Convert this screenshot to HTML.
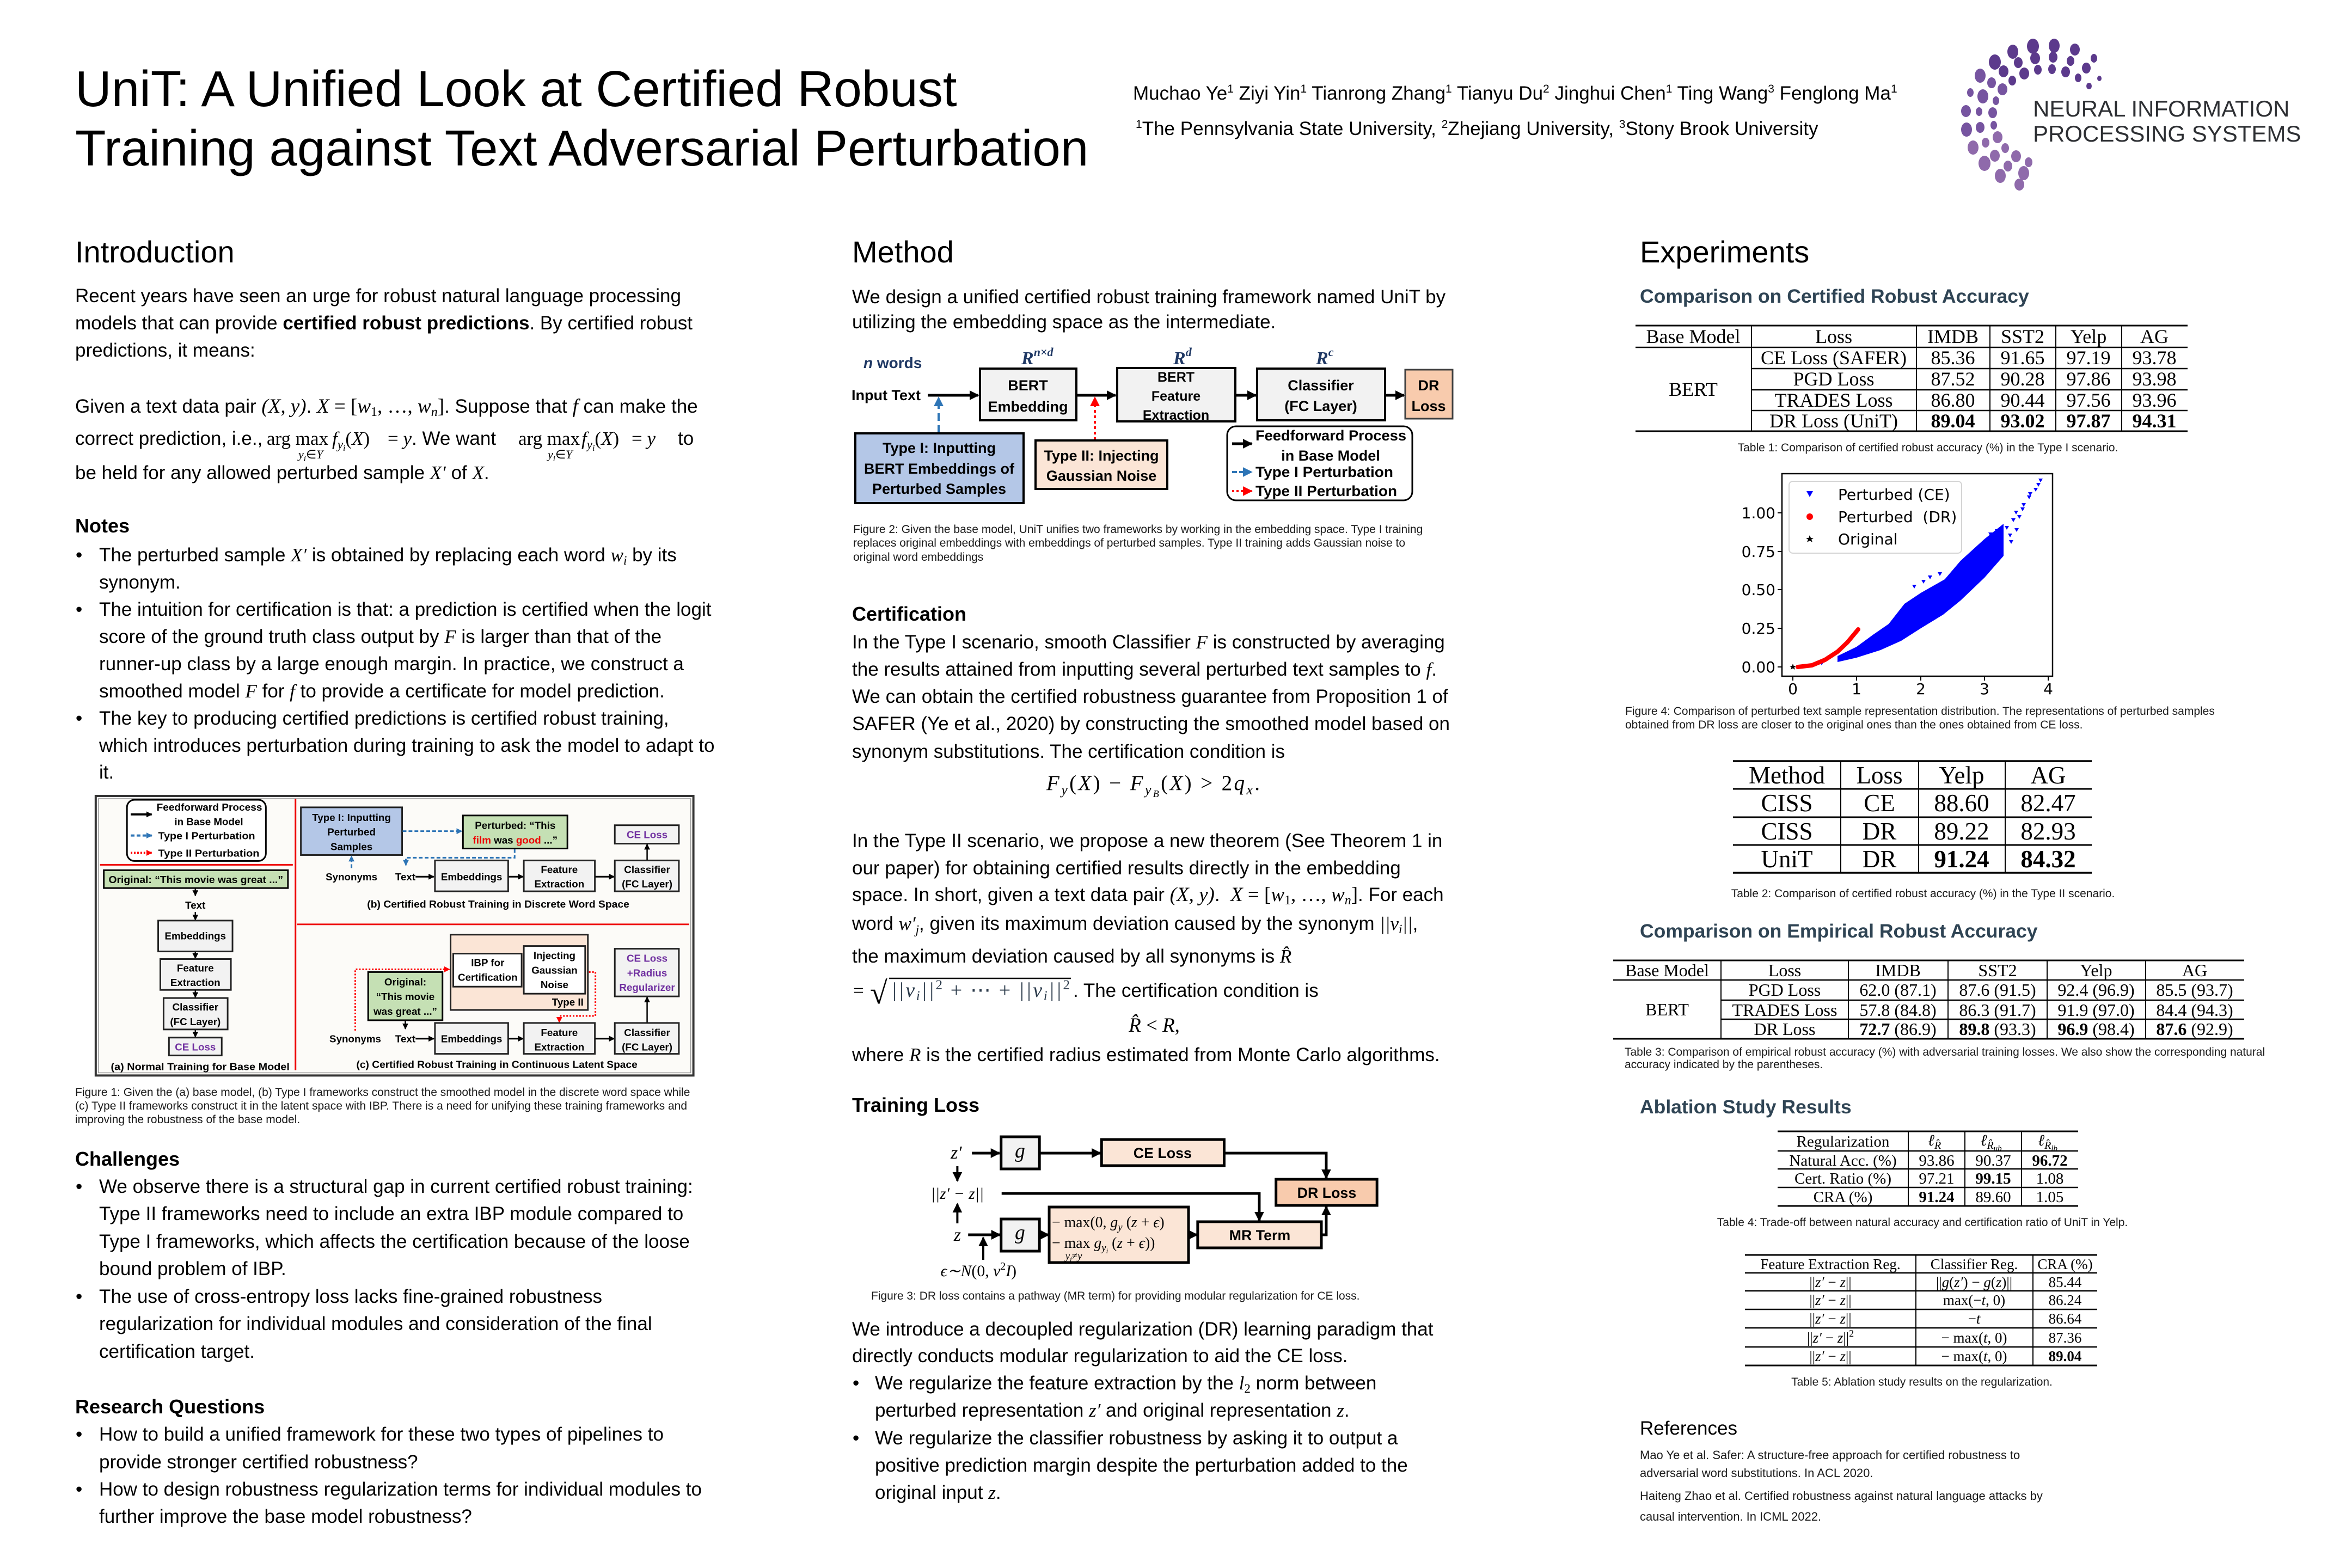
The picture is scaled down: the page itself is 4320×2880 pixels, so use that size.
<!DOCTYPE html>
<html><head><meta charset="utf-8"><title>UniT poster</title>
<style>
html,body{margin:0;padding:0;background:#fff;}
svg{display:block;}
text{font-family:"Liberation Sans",Arial,sans-serif;fill:#000;}
.t{font-size:92.5px}
.h{font-size:56px}
.b{font-size:35px}
.bb{font-size:36px;font-weight:bold}
.bl{font-size:35.5px;font-weight:bold;fill:#2f4454}
.m{font-family:"Liberation Serif",serif;font-style:italic}
.s{font-family:"Liberation Serif",serif;font-style:normal}
.c{font-size:21px;fill:#1a1a1a}
.rf{font-size:22px;fill:#1a1a1a}
.tt{font-family:"Liberation Serif",serif}
.f{font-weight:bold}
.dj{font-family:"DejaVu Sans",sans-serif}
</style></head><body>
<svg width="4320" height="2880" viewBox="0 0 4320 2880" xmlns="http://www.w3.org/2000/svg">
<defs>
<marker id="k" viewBox="0 0 10 10" refX="9" refY="5" markerWidth="18" markerHeight="18" markerUnits="userSpaceOnUse" orient="auto"><path d="M0,0L10,5L0,10z" fill="#000"/></marker>
<marker id="bm" viewBox="0 0 10 10" refX="9" refY="5" markerWidth="18" markerHeight="18" markerUnits="userSpaceOnUse" orient="auto"><path d="M0,0L10,5L0,10z" fill="#2e75b6"/></marker>
<marker id="rm" viewBox="0 0 10 10" refX="9" refY="5" markerWidth="18" markerHeight="18" markerUnits="userSpaceOnUse" orient="auto"><path d="M0,0L10,5L0,10z" fill="#f00"/></marker>
<marker id="k2" viewBox="0 0 10 10" refX="9" refY="5" markerWidth="11" markerHeight="11" markerUnits="userSpaceOnUse" orient="auto"><path d="M0,0L10,5L0,10z" fill="#000"/></marker>
<marker id="b2" viewBox="0 0 10 10" refX="9" refY="5" markerWidth="11" markerHeight="11" markerUnits="userSpaceOnUse" orient="auto"><path d="M0,0L10,5L0,10z" fill="#2e75b6"/></marker>
<marker id="r2" viewBox="0 0 10 10" refX="9" refY="5" markerWidth="11" markerHeight="11" markerUnits="userSpaceOnUse" orient="auto"><path d="M0,0L10,5L0,10z" fill="#f00"/></marker>
</defs>
<rect width="4320" height="2880" fill="#fff"/>

<!-- HEADER -->
<text class="t" x="138" y="195">UniT: A Unified Look at Certified Robust</text>
<text class="t" x="138" y="304">Training against Text Adversarial Perturbation</text>
<text x="2081" y="183" font-size="35">Muchao Ye<tspan font-size="21" dy="-13">1</tspan><tspan dy="13"> Ziyi Yin</tspan><tspan font-size="21" dy="-13">1</tspan><tspan dy="13"> Tianrong Zhang</tspan><tspan font-size="21" dy="-13">1</tspan><tspan dy="13"> Tianyu Du</tspan><tspan font-size="21" dy="-13">2</tspan><tspan dy="13"> Jinghui Chen</tspan><tspan font-size="21" dy="-13">1</tspan><tspan dy="13"> Ting Wang</tspan><tspan font-size="21" dy="-13">3</tspan><tspan dy="13"> Fenglong Ma</tspan><tspan font-size="21" dy="-13">1</tspan></text>
<text x="2086" y="248" font-size="35"><tspan font-size="21" dy="-13">1</tspan><tspan dy="13">The Pennsylvania State University, </tspan><tspan font-size="21" dy="-13">2</tspan><tspan dy="13">Zhejiang University, </tspan><tspan font-size="21" dy="-13">3</tspan><tspan dy="13">Stony Brook University</tspan></text>

<!-- Logo -->
<g>
<g fill="#5c3a8c">
<ellipse cx="3837" cy="158" rx="5" ry="6"/><ellipse cx="3856" cy="144" rx="4" ry="5"/>
<ellipse cx="3846" cy="107" rx="6" ry="8"/><ellipse cx="3832" cy="125" rx="8" ry="10"/><ellipse cx="3817" cy="143" rx="6" ry="8"/>
<ellipse cx="3811" cy="91" rx="9" ry="11"/><ellipse cx="3803" cy="112" rx="7" ry="9"/><ellipse cx="3794" cy="132" rx="8" ry="10"/>
<ellipse cx="3773" cy="84" rx="10" ry="13"/><ellipse cx="3771" cy="105" rx="8" ry="10"/><ellipse cx="3769" cy="127" rx="7" ry="9"/>
<ellipse cx="3734" cy="85" rx="11" ry="14"/><ellipse cx="3738" cy="107" rx="9" ry="11"/><ellipse cx="3743" cy="128" rx="7" ry="9"/>
<ellipse cx="3697" cy="95" rx="10" ry="13"/><ellipse cx="3707" cy="115" rx="8" ry="10"/><ellipse cx="3718" cy="135" rx="9" ry="11"/>
<ellipse cx="3664" cy="114" rx="11" ry="14"/><ellipse cx="3680" cy="131" rx="9" ry="11"/><ellipse cx="3696" cy="148" rx="7" ry="9"/>
</g>
<g fill="#7654a0">
<ellipse cx="3637" cy="139" rx="10" ry="13"/><ellipse cx="3658" cy="152" rx="8" ry="10"/><ellipse cx="3678" cy="164" rx="9" ry="11"/>
<ellipse cx="3619" cy="170" rx="6" ry="8"/><ellipse cx="3642" cy="177" rx="10" ry="13"/><ellipse cx="3666" cy="185" rx="6" ry="8"/>
<ellipse cx="3611" cy="204" rx="9" ry="11"/><ellipse cx="3635" cy="205" rx="6" ry="8"/><ellipse cx="3660" cy="207" rx="8" ry="10"/>
<ellipse cx="3612" cy="238" rx="10" ry="13"/><ellipse cx="3637" cy="234" rx="8" ry="10"/><ellipse cx="3662" cy="230" rx="6" ry="8"/>
</g>
<g fill="#8f6aab">
<ellipse cx="3624" cy="271" rx="10" ry="13"/><ellipse cx="3647" cy="262" rx="7" ry="9"/><ellipse cx="3669" cy="252" rx="9" ry="11"/>
<ellipse cx="3645" cy="300" rx="11" ry="14"/><ellipse cx="3664" cy="286" rx="9" ry="11"/><ellipse cx="3683" cy="272" rx="7" ry="9"/>
<ellipse cx="3674" cy="323" rx="10" ry="13"/><ellipse cx="3688" cy="305" rx="8" ry="10"/><ellipse cx="3703" cy="287" rx="9" ry="11"/>
<ellipse cx="3709" cy="339" rx="9" ry="11"/><ellipse cx="3717" cy="318" rx="10" ry="13"/><ellipse cx="3726" cy="298" rx="7" ry="9"/>
</g>
<text x="3734" y="214" font-size="42" style="fill:#2d2f33">NEURAL INFORMATION</text>
<text x="3734" y="260" font-size="42" style="fill:#2d2f33">PROCESSING SYSTEMS</text>
</g>

<!-- COLUMN 1 -->
<text class="h" x="138" y="482">Introduction</text>
<text class="b" x="138" y="555">Recent years have seen an urge for robust natural language processing</text>
<text class="b" x="138" y="605">models that can provide <tspan font-weight="bold">certified robust predictions</tspan>. By certified robust</text>
<text class="b" x="138" y="655">predictions, it means:</text>

<text class="b" x="138" y="758">Given a text data pair <tspan class="m" font-size="37">(X, y)</tspan>. <tspan class="m" font-size="37">X</tspan><tspan class="s" font-size="37"> = [</tspan><tspan class="m" font-size="37">w</tspan><tspan class="s" font-size="24" dy="6">1</tspan><tspan class="s" font-size="37" dy="-6">, …, </tspan><tspan class="m" font-size="37">w</tspan><tspan class="m" font-size="24" dy="6">n</tspan><tspan class="s" font-size="37" dy="-6">]</tspan>. Suppose that <tspan class="m" font-size="37">f</tspan> can make the</text>
<text class="b" y="817"><tspan x="138">correct prediction, i.e., </tspan><tspan x="490" class="s">arg max</tspan><tspan x="610" class="m">f</tspan><tspan class="m" font-size="23" dy="7">y</tspan><tspan class="m" font-size="16" dy="4">i</tspan><tspan class="s" dy="-11">(</tspan><tspan class="m">X</tspan><tspan class="s">)</tspan><tspan x="712" class="s">= </tspan><tspan class="m">y</tspan><tspan>. We want </tspan><tspan x="952" class="s">arg max</tspan><tspan x="1068" class="m">f</tspan><tspan class="m" font-size="23" dy="7">y</tspan><tspan class="m" font-size="16" dy="4">i</tspan><tspan class="s" dy="-11">(</tspan><tspan class="m">X</tspan><tspan class="s">)</tspan><tspan x="1160" class="s">= </tspan><tspan class="m">y</tspan><tspan x="1245">to</tspan></text>
<text class="m" font-size="22" x="548" y="842">y<tspan font-size="15" dy="5">i</tspan><tspan class="s" dy="-5">∈</tspan>Y</text>
<text class="m" font-size="22" x="1006" y="842">y<tspan font-size="15" dy="5">i</tspan><tspan class="s" dy="-5">∈</tspan>Y</text>
<text class="b" x="138" y="880">be held for any allowed perturbed sample <tspan class="m">X′</tspan> of <tspan class="m">X</tspan>.</text>

<text class="bb" x="138" y="978">Notes</text>
<text class="b" x="139" y="1031">•</text><text class="b" x="182" y="1031">The perturbed sample <tspan class="m">X′</tspan> is obtained by replacing each word <tspan class="m">w</tspan><tspan class="m" font-size="23" dy="6">i</tspan><tspan dy="-6"> by its</tspan></text>
<text class="b" x="182" y="1081">synonym.</text>
<text class="b" x="139" y="1131">•</text><text class="b" x="182" y="1131">The intuition for certification is that: a prediction is certified when the logit</text>
<text class="b" x="182" y="1181">score of the ground truth class output by <tspan class="m">F</tspan> is larger than that of the</text>
<text class="b" x="182" y="1231">runner-up class by a large enough margin. In practice, we construct a</text>
<text class="b" x="182" y="1281">smoothed model <tspan class="m">F</tspan> for <tspan class="m">f</tspan> to provide a certificate for model prediction.</text>
<text class="b" x="139" y="1331">•</text><text class="b" x="182" y="1331">The key to producing certified predictions is certified robust training,</text>
<text class="b" x="182" y="1381">which introduces perturbation during training to ask the model to adapt to</text>
<text class="b" x="182" y="1430">it.</text>

<!-- FIGURE 1 -->
<g transform="matrix(0.989,0,0,0.995,1.76,7.3)" font-size="19" font-weight="bold">
<rect x="176" y="1462" width="1110" height="516" fill="#fcfbf8" stroke="#333" stroke-width="4"/>
<rect x="181" y="1467" width="1100" height="506" fill="none" stroke="#999" stroke-width="1.5"/>
<line x1="547" y1="1467" x2="547" y2="1968" stroke="#e00" stroke-width="3"/>
<line x1="184" y1="1589" x2="542" y2="1589" stroke="#e00" stroke-width="3"/>
<line x1="550" y1="1699" x2="1278" y2="1699" stroke="#e00" stroke-width="3"/>
<rect x="234" y="1469" width="258" height="113" rx="14" fill="#fff" stroke="#000" stroke-width="3"/>
<line x1="241" y1="1496" x2="280" y2="1496" stroke="#000" stroke-width="4" marker-end="url(#k2)"/>
<line x1="241" y1="1535" x2="280" y2="1535" stroke="#2e75b6" stroke-width="4" stroke-dasharray="7 4" marker-end="url(#b2)"/>
<line x1="241" y1="1567" x2="280" y2="1567" stroke="#f00" stroke-width="4" stroke-dasharray="3 3" marker-end="url(#r2)"/>
<text x="289" y="1489" textLength="196" lengthAdjust="spacingAndGlyphs">Feedforward Process</text>
<text x="386" y="1516" text-anchor="middle">in Base Model</text>
<text x="292" y="1542" textLength="180" lengthAdjust="spacingAndGlyphs">Type I Perturbation</text>
<text x="292" y="1574" textLength="188" lengthAdjust="spacingAndGlyphs">Type II Perturbation</text>
<rect x="191" y="1599" width="342" height="33" fill="#c5e0b4" stroke="#000" stroke-width="3"/>
<text x="200" y="1623" textLength="324" lengthAdjust="spacingAndGlyphs">Original: “This movie was great ...”</text>
<line x1="361" y1="1633" x2="361" y2="1646" stroke="#000" stroke-width="2.5" marker-end="url(#k2)"/>
<text x="361" y="1670" text-anchor="middle">Text</text>
<line x1="361" y1="1676" x2="361" y2="1691" stroke="#000" stroke-width="2.5" marker-end="url(#k2)"/>
<rect x="292" y="1692" width="138" height="57" fill="#f2f2f2" stroke="#222" stroke-width="3"/>
<text x="361" y="1727" text-anchor="middle">Embeddings</text>
<line x1="361" y1="1750" x2="361" y2="1762" stroke="#000" stroke-width="2.5" marker-end="url(#k2)"/>
<rect x="296" y="1763" width="131" height="57" fill="#f2f2f2" stroke="#222" stroke-width="3"/>
<text x="361" y="1786" text-anchor="middle">Feature</text>
<text x="361" y="1813" text-anchor="middle">Extraction</text>
<line x1="361" y1="1821" x2="361" y2="1834" stroke="#000" stroke-width="2.5" marker-end="url(#k2)"/>
<rect x="302" y="1835" width="119" height="58" fill="#f2f2f2" stroke="#222" stroke-width="3"/>
<text x="361" y="1858" text-anchor="middle">Classifier</text>
<text x="361" y="1885" text-anchor="middle">(FC Layer)</text>
<line x1="361" y1="1894" x2="361" y2="1907" stroke="#000" stroke-width="2.5" marker-end="url(#k2)"/>
<rect x="312" y="1908" width="98" height="33" fill="#f2f2f2" stroke="#222" stroke-width="3"/>
<text x="361" y="1932" text-anchor="middle" style="fill:#7030a0">CE Loss</text>
<text x="204" y="1968" textLength="332" lengthAdjust="spacingAndGlyphs">(a) Normal Training for Base Model</text>
<rect x="557" y="1483" width="188" height="88" fill="#b4c7e7" stroke="#222" stroke-width="3"/>
<text x="651" y="1508" text-anchor="middle">Type I: Inputting</text>
<text x="651" y="1535" text-anchor="middle">Perturbed</text>
<text x="651" y="1562" text-anchor="middle">Samples</text>
<line x1="746" y1="1527" x2="856" y2="1527" stroke="#2e75b6" stroke-width="3" stroke-dasharray="7 4" marker-end="url(#b2)"/>
<rect x="858" y="1498" width="194" height="61" fill="#c5e0b4" stroke="#000" stroke-width="3"/>
<text x="955" y="1523" text-anchor="middle">Perturbed: “This</text>
<text x="955" y="1550" text-anchor="middle"><tspan style="fill:#e00">film</tspan> was <tspan style="fill:#e00">good</tspan> ...”</text>
<path d="M954,1560V1576H752V1590" fill="none" stroke="#2e75b6" stroke-width="3" stroke-dasharray="7 4" marker-end="url(#b2)"/>
<path d="M651,1595V1573" fill="none" stroke="#2e75b6" stroke-width="3" stroke-dasharray="7 4" marker-end="url(#b2)"/>
<text x="651" y="1618" text-anchor="middle">Synonyms</text>
<text x="751" y="1618" text-anchor="middle">Text</text>
<line x1="770" y1="1611" x2="804" y2="1611" stroke="#000" stroke-width="3" marker-end="url(#k2)"/>
<rect x="806" y="1581" width="136" height="57" fill="#f2f2f2" stroke="#222" stroke-width="3"/>
<text x="874" y="1618" text-anchor="middle">Embeddings</text>
<line x1="943" y1="1611" x2="970" y2="1611" stroke="#000" stroke-width="3" marker-end="url(#k2)"/>
<rect x="971" y="1581" width="132" height="57" fill="#f2f2f2" stroke="#222" stroke-width="3"/>
<text x="1037" y="1604" text-anchor="middle">Feature</text>
<text x="1037" y="1631" text-anchor="middle">Extraction</text>
<line x1="1104" y1="1611" x2="1139" y2="1611" stroke="#000" stroke-width="3" marker-end="url(#k2)"/>
<rect x="1140" y="1581" width="119" height="57" fill="#f2f2f2" stroke="#222" stroke-width="3"/>
<text x="1200" y="1604" text-anchor="middle">Classifier</text>
<text x="1200" y="1631" text-anchor="middle">(FC Layer)</text>
<rect x="1140" y="1516" width="119" height="34" fill="#f2f2f2" stroke="#222" stroke-width="3"/>
<text x="1200" y="1540" text-anchor="middle" style="fill:#7030a0">CE Loss</text>
<line x1="1200" y1="1580" x2="1200" y2="1551" stroke="#000" stroke-width="2.5" marker-end="url(#k2)"/>
<text x="680" y="1668" textLength="487" lengthAdjust="spacingAndGlyphs">(b) Certified Robust Training in Discrete Word Space</text>
<rect x="835" y="1718" width="255" height="139" fill="#fbe5d6" stroke="#222" stroke-width="3"/>
<rect x="840" y="1753" width="127" height="61" fill="#fff" stroke="#222" stroke-width="3"/>
<text x="904" y="1776" text-anchor="middle">IBP for</text>
<text x="904" y="1803" text-anchor="middle">Certification</text>
<rect x="971" y="1739" width="114" height="88" fill="#fff" stroke="#222" stroke-width="3"/>
<text x="1028" y="1763" text-anchor="middle">Injecting</text>
<text x="1028" y="1790" text-anchor="middle">Gaussian</text>
<text x="1028" y="1817" text-anchor="middle">Noise</text>
<text x="1082" y="1849" text-anchor="end">Type II</text>
<rect x="682" y="1787" width="138" height="89" fill="#c5e0b4" stroke="#000" stroke-width="3"/>
<text x="751" y="1812" text-anchor="middle">Original:</text>
<text x="751" y="1839" text-anchor="middle">“This movie</text>
<text x="751" y="1866" text-anchor="middle">was great ...”</text>
<path d="M658,1895V1782H833" fill="none" stroke="#f00" stroke-width="3" stroke-dasharray="3 3" marker-end="url(#r2)"/>
<path d="M1092,1787H1104V1868H1037V1880" fill="none" stroke="#f00" stroke-width="3" stroke-dasharray="3 3" marker-end="url(#r2)"/>
<line x1="751" y1="1877" x2="751" y2="1892" stroke="#000" stroke-width="2.5" marker-end="url(#k2)"/>
<text x="658" y="1917" text-anchor="middle">Synonyms</text>
<text x="751" y="1917" text-anchor="middle">Text</text>
<line x1="770" y1="1910" x2="804" y2="1910" stroke="#000" stroke-width="3" marker-end="url(#k2)"/>
<rect x="806" y="1881" width="136" height="57" fill="#f2f2f2" stroke="#222" stroke-width="3"/>
<text x="874" y="1917" text-anchor="middle">Embeddings</text>
<line x1="943" y1="1910" x2="970" y2="1910" stroke="#000" stroke-width="3" marker-end="url(#k2)"/>
<rect x="971" y="1881" width="132" height="57" fill="#f2f2f2" stroke="#222" stroke-width="3"/>
<text x="1037" y="1905" text-anchor="middle">Feature</text>
<text x="1037" y="1932" text-anchor="middle">Extraction</text>
<line x1="1104" y1="1910" x2="1139" y2="1910" stroke="#000" stroke-width="3" marker-end="url(#k2)"/>
<rect x="1140" y="1881" width="119" height="57" fill="#f2f2f2" stroke="#222" stroke-width="3"/>
<text x="1200" y="1905" text-anchor="middle">Classifier</text>
<text x="1200" y="1932" text-anchor="middle">(FC Layer)</text>
<rect x="1140" y="1744" width="119" height="88" fill="#f2f2f2" stroke="#222" stroke-width="3"/>
<text x="1200" y="1768" text-anchor="middle" style="fill:#7030a0">CE Loss</text>
<text x="1200" y="1795" text-anchor="middle" style="fill:#7030a0">+Radius</text>
<text x="1200" y="1822" text-anchor="middle" style="fill:#7030a0">Regularizer</text>
<line x1="1200" y1="1880" x2="1200" y2="1833" stroke="#000" stroke-width="2.5" marker-end="url(#k2)"/>
<text x="660" y="1964" textLength="522" lengthAdjust="spacingAndGlyphs">(c) Certified Robust Training in Continuous Latent Space</text>
</g>
<text class="c" x="138" y="2013">Figure 1: Given the (a) base model, (b) Type I frameworks construct the smoothed model in the discrete word space while</text>
<text class="c" x="138" y="2038">(c) Type II frameworks construct it in the latent space with IBP. There is a need for unifying these training frameworks and</text>
<text class="c" x="138" y="2063">improving the robustness of the base model.</text>

<text class="bb" x="138" y="2141">Challenges</text>
<text class="b" x="139" y="2191">•</text><text class="b" x="182" y="2191">We observe there is a structural gap in current certified robust training:</text>
<text class="b" x="182" y="2241">Type II frameworks need to include an extra IBP module compared to</text>
<text class="b" x="182" y="2292">Type I frameworks, which affects the certification because of the loose</text>
<text class="b" x="182" y="2342">bound problem of IBP.</text>
<text class="b" x="139" y="2393">•</text><text class="b" x="182" y="2393">The use of cross-entropy loss lacks fine-grained robustness</text>
<text class="b" x="182" y="2443">regularization for individual modules and consideration of the final</text>
<text class="b" x="182" y="2494">certification target.</text>

<text class="bb" x="138" y="2596">Research Questions</text>
<text class="b" x="139" y="2646">•</text><text class="b" x="182" y="2646">How to build a unified framework for these two types of pipelines to</text>
<text class="b" x="182" y="2697">provide stronger certified robustness?</text>
<text class="b" x="139" y="2747">•</text><text class="b" x="182" y="2747">How to design robustness regularization terms for individual modules to</text>
<text class="b" x="182" y="2797">further improve the base model robustness?</text>

<!-- COLUMN 2 -->
<text class="h" x="1565" y="482">Method</text>
<text class="b" x="1565" y="557">We design a unified certified robust training framework named UniT by</text>
<text class="b" x="1565" y="603">utilizing the embedding space as the intermediate.</text>

<!-- FIGURE 2 -->
<g font-weight="bold" font-size="27">
<text x="1586" y="676" font-size="28" style="fill:#1f3864"><tspan font-style="italic">n</tspan> words</text>
<text x="1876" y="669" font-size="34" class="m" style="fill:#1f3864;font-weight:bold">R<tspan font-size="22" dy="-15">n×d</tspan></text>
<text x="2155" y="669" font-size="34" class="m" style="fill:#1f3864;font-weight:bold">R<tspan font-size="22" dy="-15">d</tspan></text>
<text x="2417" y="669" font-size="34" class="m" style="fill:#1f3864;font-weight:bold">R<tspan font-size="22" dy="-15">c</tspan></text>
<text x="1564" y="735">Input Text</text>
<line x1="1704" y1="726" x2="1797" y2="726" stroke="#000" stroke-width="5" marker-end="url(#k)"/>
<rect x="1800" y="677" width="177" height="95" fill="#f2f2f2" stroke="#000" stroke-width="4"/>
<text x="1888" y="717" text-anchor="middle">BERT</text>
<text x="1888" y="756" text-anchor="middle">Embedding</text>
<line x1="1977" y1="726" x2="2049" y2="726" stroke="#000" stroke-width="5" marker-end="url(#k)"/>
<rect x="2052" y="676" width="217" height="98" fill="#f2f2f2" stroke="#000" stroke-width="4"/>
<text x="2160" y="701" text-anchor="middle" font-size="25">BERT</text>
<text x="2160" y="736" text-anchor="middle" font-size="25">Feature</text>
<text x="2160" y="771" text-anchor="middle" font-size="25">Extraction</text>
<line x1="2269" y1="726" x2="2307" y2="726" stroke="#000" stroke-width="5" marker-end="url(#k)"/>
<rect x="2309" y="677" width="235" height="95" fill="#f2f2f2" stroke="#000" stroke-width="4"/>
<text x="2426" y="717" text-anchor="middle">Classifier</text>
<text x="2426" y="755" text-anchor="middle">(FC Layer)</text>
<line x1="2544" y1="726" x2="2579" y2="726" stroke="#000" stroke-width="5" marker-end="url(#k)"/>
<rect x="2581" y="679" width="87" height="90" fill="#f8cbad" stroke="#404040" stroke-width="3"/>
<text x="2624" y="717" text-anchor="middle">DR</text>
<text x="2624" y="755" text-anchor="middle">Loss</text>
<line x1="1724" y1="795" x2="1724" y2="730" stroke="#2e75b6" stroke-width="4" stroke-dasharray="14 8" marker-end="url(#bm)"/>
<line x1="2011" y1="808" x2="2011" y2="730" stroke="#f00" stroke-width="4" stroke-dasharray="5 5" marker-end="url(#rm)"/>
<rect x="1571" y="796" width="309" height="128" fill="#b4c7e7" stroke="#000" stroke-width="4"/>
<text x="1725" y="832" text-anchor="middle">Type I: Inputting</text>
<text x="1725" y="870" text-anchor="middle">BERT Embeddings of</text>
<text x="1725" y="907" text-anchor="middle">Perturbed Samples</text>
<rect x="1902" y="809" width="242" height="89" fill="#fbe5d6" stroke="#000" stroke-width="4"/>
<text x="2023" y="846" text-anchor="middle">Type II: Injecting</text>
<text x="2023" y="883" text-anchor="middle">Gaussian Noise</text>
<rect x="2254" y="783" width="340" height="136" rx="16" fill="#fff" stroke="#000" stroke-width="3"/>
<line x1="2263" y1="815" x2="2299" y2="815" stroke="#000" stroke-width="5" marker-end="url(#k)"/>
<line x1="2263" y1="867" x2="2299" y2="867" stroke="#2e75b6" stroke-width="4" stroke-dasharray="9 4" marker-end="url(#bm)"/>
<line x1="2263" y1="902" x2="2299" y2="902" stroke="#f00" stroke-width="4" stroke-dasharray="4 4" marker-end="url(#rm)"/>
<text x="2306" y="809" textLength="277" lengthAdjust="spacingAndGlyphs">Feedforward Process</text>
<text x="2444" y="846" text-anchor="middle">in Base Model</text>
<text x="2306" y="876" textLength="253" lengthAdjust="spacingAndGlyphs">Type I Perturbation</text>
<text x="2306" y="911" textLength="260" lengthAdjust="spacingAndGlyphs">Type II Perturbation</text>
</g>
<text class="c" x="1567" y="979">Figure 2: Given the base model, UniT unifies two frameworks by working in the embedding space. Type I training</text>
<text class="c" x="1567" y="1004">replaces original embeddings with embeddings of perturbed samples. Type II training adds Gaussian noise to</text>
<text class="c" x="1567" y="1030">original word embeddings</text>

<text class="bb" x="1565" y="1140">Certification</text>
<text class="b" x="1565" y="1191">In the Type I scenario, smooth Classifier <tspan class="m">F</tspan> is constructed by averaging</text>
<text class="b" x="1565" y="1241">the results attained from inputting several perturbed text samples to <tspan class="m">f</tspan>.</text>
<text class="b" x="1565" y="1291">We can obtain the certified robustness guarantee from Proposition 1 of</text>
<text class="b" x="1565" y="1341">SAFER (Ye et al., 2020) by constructing the smoothed model based on</text>
<text class="b" x="1565" y="1392">synonym substitutions. The certification condition is</text>
<text x="1922" y="1451" font-size="39" class="m" textLength="392" lengthAdjust="spacing">F<tspan font-size="26" dy="8">y</tspan><tspan class="s" dy="-8">(</tspan>X<tspan class="s">) − </tspan>F<tspan font-size="26" dy="8">y</tspan><tspan font-size="18" dy="5">B</tspan><tspan class="s" dy="-13">(</tspan>X<tspan class="s">) &gt; 2</tspan>q<tspan font-size="26" dy="8">x</tspan><tspan class="s" dy="-8">.</tspan></text>

<text class="b" x="1565" y="1556">In the Type II scenario, we propose a new theorem (See Theorem 1 in</text>
<text class="b" x="1565" y="1606">our paper) for obtaining certified results directly in the embedding</text>
<text class="b" x="1565" y="1655">space. In short, given a text data pair <tspan class="m" font-size="37">(X, y)</tspan>.&#160; <tspan class="m" font-size="37">X</tspan><tspan class="s" font-size="37"> = [</tspan><tspan class="m" font-size="37">w</tspan><tspan class="s" font-size="24" dy="6">1</tspan><tspan class="s" font-size="37" dy="-6">, …, </tspan><tspan class="m" font-size="37">w</tspan><tspan class="m" font-size="24" dy="6">n</tspan><tspan class="s" font-size="37" dy="-6">]</tspan>. For each</text>
<text class="b" x="1565" y="1708">word <tspan class="m">w′</tspan><tspan class="m" font-size="23" dy="7">j</tspan><tspan dy="-7">, given its maximum deviation caused by the synonym </tspan><tspan class="m">||v</tspan><tspan class="m" font-size="23" dy="6">i</tspan><tspan class="m" dy="-6">||</tspan>,</text>
<text class="b" x="1565" y="1768">the maximum deviation caused by all synonyms is <tspan class="m">R̂</tspan></text>
<text class="s" x="1567" y="1831" font-size="35">=</text>
<text class="s" x="1598" y="1843" font-size="58">√</text>
<line x1="1633" y1="1797" x2="1967" y2="1797" stroke="#000" stroke-width="2.5"/>
<text x="1637" y="1831" font-size="38" class="m" style="fill:#2b3a4a" textLength="328" lengthAdjust="spacing">||v<tspan font-size="25" dy="6">i</tspan><tspan dy="-6">||</tspan><tspan class="s" font-size="25" dy="-14">2</tspan><tspan class="s" dy="14"> + ⋯ + </tspan>||v<tspan font-size="25" dy="6">i</tspan><tspan dy="-6">||</tspan><tspan class="s" font-size="25" dy="-14">2</tspan></text>
<text class="b" x="1971" y="1831">. The certification condition is</text>
<text x="2120" y="1895" text-anchor="middle" font-size="37" class="m">R̂<tspan class="s"> &lt; </tspan>R<tspan class="s">,</tspan></text>
<text class="b" x="1565" y="1949">where <tspan class="m">R</tspan> is the certified radius estimated from Monte Carlo algorithms.</text>

<text class="bb" x="1565" y="2042">Training Loss</text>

<!-- FIGURE 3 -->
<g transform="matrix(0.992,0,0,1,12.48,-8)">
<text x="1758" y="2136" text-anchor="middle" font-size="34" class="m">z′</text>
<line x1="1787" y1="2126" x2="1838" y2="2126" stroke="#000" stroke-width="5" marker-end="url(#k)"/>
<rect x="1841" y="2096" width="71" height="59" fill="#f2f2f2" stroke="#000" stroke-width="5"/>
<text x="1876" y="2134" text-anchor="middle" font-size="38" class="m">g</text>
<line x1="1913" y1="2126" x2="2025" y2="2126" stroke="#000" stroke-width="5" marker-end="url(#k)"/>
<rect x="2027" y="2101" width="227" height="48" fill="#fbe5d6" stroke="#000" stroke-width="5"/>
<text x="2140" y="2135" text-anchor="middle" font-size="27" font-weight="bold">CE Loss</text>
<path d="M2254,2126H2443V2172" fill="none" stroke="#000" stroke-width="5" marker-end="url(#k)"/>
<rect x="2350" y="2174" width="187" height="48" fill="#f8cbad" stroke="#000" stroke-width="5"/>
<text x="2444" y="2208" text-anchor="middle" font-size="27" font-weight="bold">DR Loss</text>
<line x1="1760" y1="2150" x2="1760" y2="2177" stroke="#000" stroke-width="4" marker-end="url(#k)"/>
<text x="1760" y="2210" text-anchor="middle" font-size="30" class="m">||z′ − z||</text>
<path d="M1842,2200H2319V2250" fill="none" stroke="#000" stroke-width="5" marker-end="url(#k)"/>
<rect x="2205" y="2252" width="229" height="48" fill="#fbe5d6" stroke="#000" stroke-width="5"/>
<text x="2320" y="2286" text-anchor="middle" font-size="27" font-weight="bold">MR Term</text>
<line x1="1760" y1="2255" x2="1760" y2="2219" stroke="#000" stroke-width="4" marker-end="url(#k)"/>
<text x="1760" y="2287" text-anchor="middle" font-size="34" class="m">z</text>
<line x1="1780" y1="2276" x2="1839" y2="2276" stroke="#000" stroke-width="5" marker-end="url(#k)"/>
<line x1="1808" y1="2322" x2="1808" y2="2281" stroke="#000" stroke-width="4" marker-end="url(#k)"/>
<text x="1729" y="2352" font-size="30" class="m">ϵ∼N<tspan class="s">(0, </tspan>v<tspan class="s" font-size="20" dy="-12">2</tspan><tspan dy="12">I</tspan><tspan class="s">)</tspan></text>
<rect x="1841" y="2247" width="71" height="59" fill="#f2f2f2" stroke="#000" stroke-width="5"/>
<text x="1876" y="2284" text-anchor="middle" font-size="38" class="m">g</text>
<line x1="1913" y1="2276" x2="1929" y2="2276" stroke="#000" stroke-width="5" marker-end="url(#k)"/>
<rect x="1930" y="2225" width="258" height="102" fill="#fbe5d6" stroke="#000" stroke-width="5"/>
<text x="1935" y="2262" font-size="28" class="s">− max(0, <tspan class="m">g</tspan><tspan class="m" font-size="19" dy="6">y</tspan><tspan dy="-6"> (</tspan><tspan class="m">z</tspan> + <tspan class="m">ϵ</tspan>)</text>
<text x="1935" y="2300" font-size="28" class="s">− max <tspan class="m">g</tspan><tspan class="m" font-size="19" dy="6">y</tspan><tspan class="m" font-size="13" dy="4">i</tspan><tspan dy="-10"> (</tspan><tspan class="m">z</tspan> + <tspan class="m">ϵ</tspan>))</text>
<text x="1960" y="2321" font-size="19" class="m">y<tspan font-size="13" dy="4">i</tspan><tspan class="s" dy="-4">≠</tspan>y</text>
<line x1="2189" y1="2276" x2="2204" y2="2276" stroke="#000" stroke-width="5" marker-end="url(#k)"/>
<path d="M2434,2276H2443V2224" fill="none" stroke="#000" stroke-width="5" marker-end="url(#k)"/>
</g>
<text class="c" x="1600" y="2387">Figure 3: DR loss contains a pathway (MR term) for providing modular regularization for CE loss.</text>

<text class="b" x="1565" y="2453">We introduce a decoupled regularization (DR) learning paradigm that</text>
<text class="b" x="1565" y="2502">directly conducts modular regularization to aid the CE loss.</text>
<text class="b" x="1566" y="2552">•</text><text class="b" x="1607" y="2552">We regularize the feature extraction by the <tspan class="m">l</tspan><tspan class="s" font-size="23" dy="6">2</tspan><tspan dy="-6"> norm between</tspan></text>
<text class="b" x="1607" y="2602">perturbed representation <tspan class="m">z′</tspan> and original representation <tspan class="m">z</tspan>.</text>
<text class="b" x="1566" y="2653">•</text><text class="b" x="1607" y="2653">We regularize the classifier robustness by asking it to output a</text>
<text class="b" x="1607" y="2703">positive prediction margin despite the perturbation added to the</text>
<text class="b" x="1607" y="2753">original input <tspan class="m">z</tspan>.</text>

<!-- COLUMN 3 -->
<text class="h" x="3012" y="482">Experiments</text>
<text class="bl" x="3012" y="556">Comparison on Certified Robust Accuracy</text>

<!-- Table 1 -->
<g stroke="#000">
<line x1="3004" y1="598" x2="4018" y2="598" stroke-width="3"/>
<line x1="3004" y1="638" x2="4018" y2="638" stroke-width="2.5"/>
<line x1="3217" y1="677" x2="4018" y2="677" stroke-width="2.5"/>
<line x1="3217" y1="716" x2="4018" y2="716" stroke-width="2.5"/>
<line x1="3217" y1="754" x2="4018" y2="754" stroke-width="2.5"/>
<line x1="3004" y1="792" x2="4018" y2="792" stroke-width="3"/>
<line x1="3217" y1="598" x2="3217" y2="792" stroke-width="2"/>
<line x1="3520" y1="598" x2="3520" y2="792" stroke-width="2"/>
<line x1="3655" y1="598" x2="3655" y2="792" stroke-width="2"/>
<line x1="3776" y1="598" x2="3776" y2="792" stroke-width="2"/>
<line x1="3897" y1="598" x2="3897" y2="792" stroke-width="2"/>
</g>
<g font-size="36" text-anchor="middle">
<text class="tt" x="3110" y="630">Base Model</text><text class="tt" x="3368" y="630">Loss</text><text class="tt" x="3587" y="630">IMDB</text><text class="tt" x="3715" y="630">SST2</text><text class="tt" x="3836" y="630">Yelp</text><text class="tt" x="3957" y="630">AG</text>
<text class="tt" x="3110" y="727">BERT</text>
<text class="tt" x="3368" y="669">CE Loss (SAFER)</text><text class="tt" x="3587" y="669">85.36</text><text class="tt" x="3715" y="669">91.65</text><text class="tt" x="3836" y="669">97.19</text><text class="tt" x="3957" y="669">93.78</text>
<text class="tt" x="3368" y="708">PGD Loss</text><text class="tt" x="3587" y="708">87.52</text><text class="tt" x="3715" y="708">90.28</text><text class="tt" x="3836" y="708">97.86</text><text class="tt" x="3957" y="708">93.98</text>
<text class="tt" x="3368" y="747">TRADES Loss</text><text class="tt" x="3587" y="747">86.80</text><text class="tt" x="3715" y="747">90.44</text><text class="tt" x="3836" y="747">97.56</text><text class="tt" x="3957" y="747">93.96</text>
<text class="tt" x="3368" y="785">DR Loss (UniT)</text><text class="tt f" x="3587" y="785">89.04</text><text class="tt f" x="3715" y="785">93.02</text><text class="tt f" x="3836" y="785">97.87</text><text class="tt f" x="3957" y="785">94.31</text>
</g>
<text class="c" x="3541" y="829" text-anchor="middle">Table 1: Comparison of certified robust accuracy (%) in the Type I scenario.</text>

<!-- Figure 4 plot -->
<g>
<rect x="3273" y="870" width="497" height="372" fill="#fff" stroke="#000" stroke-width="2.5"/>
<polygon fill="#0000ff" points="3375,1216 3410,1208 3454,1194 3492,1177 3528,1154 3569,1129 3601,1103 3645,1061 3680,1021 3680,962 3645,990 3601,1030 3572,1064 3528,1089 3498,1109 3469,1146 3440,1166 3410,1188 3375,1205"/>
<g fill="#0000ff">
<path d="M3682,966h8l-4,7z"/><path d="M3694,952h8l-4,7z"/><path d="M3699,938h8l-4,7z"/><path d="M3705,946h8l-4,7z"/><path d="M3711,932h8l-4,7z"/><path d="M3713,924h8l-4,7z"/><path d="M3723,910h8l-4,7z"/><path d="M3725,904h8l-4,7z"/><path d="M3735,896h8l-4,7z"/><path d="M3740,887h8l-4,7z"/><path d="M3744,879h8l-4,7z"/><path d="M3688,980h8l-4,7z"/><path d="M3512,1074h8l-4,7z"/><path d="M3541,1057h8l-4,7z"/><path d="M3559,1051h8l-4,7z"/><path d="M3529,1065h8l-4,7z"/><path d="M3342,1215h8l-4,7z"/><path d="M3664,972h8l-4,7z"/><path d="M3652,978h8l-4,7z"/><path d="M3690,992h8l-4,7z"/><path d="M3700,970h8l-4,7z"/>
</g>
<polyline points="3302,1225 3328,1222 3352,1212 3375,1197 3393,1180 3413,1156" fill="none" stroke="#f00" stroke-width="8" stroke-linecap="round" stroke-linejoin="round"/>
<polygon fill="#000" points="3293,1219 3294.6,1223 3299,1223 3295.6,1225.8 3297,1230 3293,1227.5 3289,1230 3290.4,1225.8 3287,1223 3291.4,1223"/>
<rect x="3286" y="884" width="317" height="132" rx="7" fill="#fff" fill-opacity="0.9" stroke="#d4d4d4" stroke-width="2"/>
<path d="M3318,902h12l-6,11z" fill="#0000ff"/>
<circle cx="3324" cy="949" r="6" fill="#f00"/>
<polygon fill="#000" points="3324,983 3326,988 3331,988 3327,991 3329,996 3324,993 3319,996 3321,991 3317,988 3322,988"/>
<text class="dj" x="3376" y="918" font-size="28">Perturbed (CE)</text>
<text class="dj" x="3376" y="959" font-size="28">Perturbed&#160;&#160;(DR)</text>
<text class="dj" x="3376" y="1000" font-size="28">Original</text>
<g stroke="#000" stroke-width="2">
<line x1="3265" y1="942" x2="3273" y2="942"/><line x1="3265" y1="1013" x2="3273" y2="1013"/><line x1="3265" y1="1083" x2="3273" y2="1083"/><line x1="3265" y1="1154" x2="3273" y2="1154"/><line x1="3265" y1="1225" x2="3273" y2="1225"/>
<line x1="3293" y1="1242" x2="3293" y2="1250"/><line x1="3410" y1="1242" x2="3410" y2="1250"/><line x1="3528" y1="1242" x2="3528" y2="1250"/><line x1="3645" y1="1242" x2="3645" y2="1250"/><line x1="3762" y1="1242" x2="3762" y2="1250"/>
</g>
<g font-size="28">
<text class="dj" x="3261" y="952" text-anchor="end">1.00</text><text class="dj" x="3261" y="1023" text-anchor="end">0.75</text><text class="dj" x="3261" y="1093" text-anchor="end">0.50</text><text class="dj" x="3261" y="1164" text-anchor="end">0.25</text><text class="dj" x="3261" y="1235" text-anchor="end">0.00</text>
<text class="dj" x="3293" y="1275" text-anchor="middle">0</text><text class="dj" x="3410" y="1275" text-anchor="middle">1</text><text class="dj" x="3528" y="1275" text-anchor="middle">2</text><text class="dj" x="3645" y="1275" text-anchor="middle">3</text><text class="dj" x="3762" y="1275" text-anchor="middle">4</text>
</g>
</g>
<text class="c" x="2985" y="1313">Figure 4: Comparison of perturbed text sample representation distribution. The representations of perturbed samples</text>
<text class="c" x="2985" y="1338">obtained from DR loss are closer to the original ones than the ones obtained from CE loss.</text>

<!-- Table 2 -->
<g stroke="#000">
<line x1="3183" y1="1398" x2="3842" y2="1398" stroke-width="3.5"/>
<line x1="3183" y1="1449" x2="3842" y2="1449" stroke-width="3"/>
<line x1="3183" y1="1501" x2="3842" y2="1501" stroke-width="3"/>
<line x1="3183" y1="1552" x2="3842" y2="1552" stroke-width="3"/>
<line x1="3183" y1="1603" x2="3842" y2="1603" stroke-width="3.5"/>
<line x1="3381" y1="1398" x2="3381" y2="1603" stroke-width="2"/>
<line x1="3524" y1="1398" x2="3524" y2="1603" stroke-width="2"/>
<line x1="3683" y1="1398" x2="3683" y2="1603" stroke-width="2"/>
</g>
<g font-size="45" text-anchor="middle">
<text class="tt" x="3282" y="1439">Method</text><text class="tt" x="3452" y="1439">Loss</text><text class="tt" x="3603" y="1439">Yelp</text><text class="tt" x="3762" y="1439">AG</text>
<text class="tt" x="3282" y="1490">CISS</text><text class="tt" x="3452" y="1490">CE</text><text class="tt" x="3603" y="1490">88.60</text><text class="tt" x="3762" y="1490">82.47</text>
<text class="tt" x="3282" y="1542">CISS</text><text class="tt" x="3452" y="1542">DR</text><text class="tt" x="3603" y="1542">89.22</text><text class="tt" x="3762" y="1542">82.93</text>
<text class="tt" x="3282" y="1593">UniT</text><text class="tt" x="3452" y="1593">DR</text><text class="tt f" x="3603" y="1593">91.24</text><text class="tt f" x="3762" y="1593">84.32</text>
</g>
<text class="c" x="3532" y="1648" text-anchor="middle">Table 2: Comparison of certified robust accuracy (%) in the Type II scenario.</text>

<text class="bl" x="3012" y="1722">Comparison on Empirical Robust Accuracy</text>
<!-- Table 3 -->
<g stroke="#000">
<line x1="2963" y1="1764" x2="4122" y2="1764" stroke-width="3"/>
<line x1="2963" y1="1800" x2="4122" y2="1800" stroke-width="2.5"/>
<line x1="3161" y1="1837" x2="4122" y2="1837" stroke-width="2.5"/>
<line x1="3161" y1="1872" x2="4122" y2="1872" stroke-width="2.5"/>
<line x1="2963" y1="1908" x2="4122" y2="1908" stroke-width="3"/>
<line x1="3161" y1="1764" x2="3161" y2="1908" stroke-width="2"/>
<line x1="3395" y1="1764" x2="3395" y2="1908" stroke-width="2"/>
<line x1="3578" y1="1764" x2="3578" y2="1908" stroke-width="2"/>
<line x1="3760" y1="1764" x2="3760" y2="1908" stroke-width="2"/>
<line x1="3941" y1="1764" x2="3941" y2="1908" stroke-width="2"/>
</g>
<g font-size="32" text-anchor="middle">
<text class="tt" x="3062" y="1793">Base Model</text><text class="tt" x="3278" y="1793">Loss</text><text class="tt" x="3486" y="1793">IMDB</text><text class="tt" x="3669" y="1793">SST2</text><text class="tt" x="3850" y="1793">Yelp</text><text class="tt" x="4031" y="1793">AG</text>
<text class="tt" x="3062" y="1865">BERT</text>
<text class="tt" x="3278" y="1829">PGD Loss</text><text class="tt" x="3486" y="1829">62.0 (87.1)</text><text class="tt" x="3669" y="1829">87.6 (91.5)</text><text class="tt" x="3850" y="1829">92.4 (96.9)</text><text class="tt" x="4031" y="1829">85.5 (93.7)</text>
<text class="tt" x="3278" y="1866">TRADES Loss</text><text class="tt" x="3486" y="1866">57.8 (84.8)</text><text class="tt" x="3669" y="1866">86.3 (91.7)</text><text class="tt" x="3850" y="1866">91.9 (97.0)</text><text class="tt" x="4031" y="1866">84.4 (94.3)</text>
<text class="tt" x="3278" y="1901">DR Loss</text><text class="tt" x="3486" y="1901"><tspan font-weight="bold">72.7</tspan> (86.9)</text><text class="tt" x="3669" y="1901"><tspan font-weight="bold">89.8</tspan> (93.3)</text><text class="tt" x="3850" y="1901"><tspan font-weight="bold">96.9</tspan> (98.4)</text><text class="tt" x="4031" y="1901"><tspan font-weight="bold">87.6</tspan> (92.9)</text>
</g>
<text class="c" x="2984" y="1939">Table 3: Comparison of empirical robust accuracy (%) with adversarial training losses. We also show the corresponding natural</text>
<text class="c" x="2984" y="1962">accuracy indicated by the parentheses.</text>

<text class="bl" x="3012" y="2045">Ablation Study Results</text>
<!-- Table 4 -->
<g stroke="#000">
<line x1="3265" y1="2078" x2="3817" y2="2078" stroke-width="3"/>
<line x1="3265" y1="2114" x2="3817" y2="2114" stroke-width="2.5"/>
<line x1="3265" y1="2147" x2="3817" y2="2147" stroke-width="2.5"/>
<line x1="3265" y1="2181" x2="3817" y2="2181" stroke-width="2.5"/>
<line x1="3265" y1="2215" x2="3817" y2="2215" stroke-width="3"/>
<line x1="3505" y1="2078" x2="3505" y2="2215" stroke-width="2"/>
<line x1="3609" y1="2078" x2="3609" y2="2215" stroke-width="2"/>
<line x1="3713" y1="2078" x2="3713" y2="2215" stroke-width="2"/>
</g>
<g font-size="29" text-anchor="middle">
<text class="tt" x="3385" y="2106">Regularization</text>
<text class="tt" x="3553" y="2104"><tspan class="m">ℓ</tspan><tspan class="m" font-size="20" dy="6">R̂</tspan></text>
<text class="tt" x="3657" y="2104"><tspan class="m">ℓ</tspan><tspan class="m" font-size="20" dy="6">R̂</tspan><tspan class="m" font-size="15" dy="4">ub</tspan></text>
<text class="tt" x="3761" y="2104"><tspan class="m">ℓ</tspan><tspan class="m" font-size="20" dy="6">R̂</tspan><tspan class="m" font-size="15" dy="4">lb</tspan></text>
<text class="tt" x="3385" y="2141">Natural Acc. (%)</text><text class="tt" x="3557" y="2141">93.86</text><text class="tt" x="3661" y="2141">90.37</text><text class="tt f" x="3765" y="2141">96.72</text>
<text class="tt" x="3385" y="2174">Cert. Ratio (%)</text><text class="tt" x="3557" y="2174">97.21</text><text class="tt f" x="3661" y="2174">99.15</text><text class="tt" x="3765" y="2174">1.08</text>
<text class="tt" x="3385" y="2208">CRA (%)</text><text class="tt f" x="3557" y="2208">91.24</text><text class="tt" x="3661" y="2208">89.60</text><text class="tt" x="3765" y="2208">1.05</text>
</g>
<text class="c" x="3531" y="2252" text-anchor="middle">Table 4: Trade-off between natural accuracy and certification ratio of UniT in Yelp.</text>

<!-- Table 5 -->
<g stroke="#000">
<line x1="3205" y1="2305" x2="3852" y2="2305" stroke-width="3"/>
<line x1="3205" y1="2338" x2="3852" y2="2338" stroke-width="2.5"/>
<line x1="3205" y1="2371" x2="3852" y2="2371" stroke-width="2.5"/>
<line x1="3205" y1="2405" x2="3852" y2="2405" stroke-width="2.5"/>
<line x1="3205" y1="2439" x2="3852" y2="2439" stroke-width="2.5"/>
<line x1="3205" y1="2474" x2="3852" y2="2474" stroke-width="2.5"/>
<line x1="3205" y1="2508" x2="3852" y2="2508" stroke-width="3"/>
<line x1="3519" y1="2305" x2="3519" y2="2508" stroke-width="2"/>
<line x1="3734" y1="2305" x2="3734" y2="2508" stroke-width="2"/>
</g>
<g font-size="27" text-anchor="middle">
<text class="tt" x="3362" y="2331">Feature Extraction Reg.</text><text class="tt" x="3626" y="2331">Classifier Reg.</text><text class="tt" x="3793" y="2331">CRA (%)</text>
<text class="tt" x="3362" y="2364">||<tspan class="m">z′</tspan> − <tspan class="m">z</tspan>||</text><text class="tt" x="3626" y="2364">||<tspan class="m">g</tspan>(<tspan class="m">z′</tspan>) − <tspan class="m">g</tspan>(<tspan class="m">z</tspan>)||</text><text class="tt" x="3793" y="2364">85.44</text>
<text class="tt" x="3362" y="2397">||<tspan class="m">z′</tspan> − <tspan class="m">z</tspan>||</text><text class="tt" x="3626" y="2397">max(−<tspan class="m">t</tspan>, 0)</text><text class="tt" x="3793" y="2397">86.24</text>
<text class="tt" x="3362" y="2431">||<tspan class="m">z′</tspan> − <tspan class="m">z</tspan>||</text><text class="tt" x="3626" y="2431">−<tspan class="m">t</tspan></text><text class="tt" x="3793" y="2431">86.64</text>
<text class="tt" x="3362" y="2466">||<tspan class="m">z′</tspan> − <tspan class="m">z</tspan>||<tspan font-size="18" dy="-11">2</tspan></text><text class="tt" x="3626" y="2466">− max(<tspan class="m">t</tspan>, 0)</text><text class="tt" x="3793" y="2466">87.36</text>
<text class="tt" x="3362" y="2500">||<tspan class="m">z′</tspan> − <tspan class="m">z</tspan>||</text><text class="tt" x="3626" y="2500">− max(<tspan class="m">t</tspan>, 0)</text><text class="tt f" x="3793" y="2500">89.04</text>
</g>
<text class="c" x="3530" y="2545" text-anchor="middle">Table 5: Ablation study results on the regularization.</text>

<text class="b" x="3012" y="2635">References</text>
<text class="rf" x="3012" y="2680">Mao Ye et al. Safer: A structure-free approach for certified robustness to</text>
<text class="rf" x="3012" y="2713">adversarial word substitutions. In ACL 2020.</text>
<text class="rf" x="3012" y="2755">Haiteng Zhao et al. Certified robustness against natural language attacks by</text>
<text class="rf" x="3012" y="2793">causal intervention. In ICML 2022.</text>
</svg>
</body></html>
